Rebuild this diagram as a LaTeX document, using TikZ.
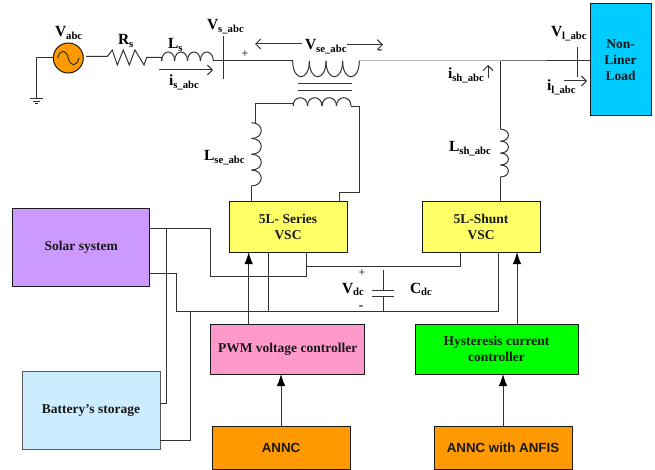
\documentclass[tikz,border=0pt]{standalone}
\usepackage{fontspec}
\setmainfont{Liberation Serif}
\setsansfont{Liberation Sans}
\usepackage{tikz}
\usetikzlibrary{arrows.meta}
\definecolor{solarcol}{HTML}{CC99FF}
\definecolor{battcol}{HTML}{CCECFF}
\definecolor{vsccol}{HTML}{FFFF66}
\definecolor{pwmcol}{HTML}{FF99CC}
\definecolor{anncol}{HTML}{FF9900}
\definecolor{loadcol}{HTML}{00CCFF}
\tikzset{
  wire/.style={line width=1pt,black!80},
  sense/.style={wire,-{Straight Barb[length=5pt,width=10pt]}},
  ctrl/.style={wire,-{Latex[length=12pt,width=8.5pt,black]}},
  blk/.style={draw,black!90,line width=1pt,inner sep=0pt,outer sep=0pt,align=center,
    font=\fontsize{13.5}{16}\selectfont\bfseries},
  lab/.style={anchor=base west,inner sep=0pt,outer sep=0pt},
}
% name, sub
\newcommand{\sublab}[2]{{\fontsize{15.5}{15}\selectfont\bfseries #1}\raisebox{-2.5pt}{\fontsize{10.7}{11}\selectfont\bfseries #2}}
% x, y, width of a turn, bulge
\newcommand{\coilh}[4]{\foreach \k in {0,1,2,3}
  \draw[wire] ({#1+#3*\k},#2) .. controls ({#1+#3*\k},{#2-(#4)}) and ({#1+#3*\k+#3},{#2-(#4)}) .. ({#1+#3*\k+#3},#2);}
\newcommand{\coilv}[4]{\foreach \k in {0,1,2,3}
  \draw[wire] (#1,{#2+#3*\k}) .. controls ({#1+#4},{#2+#3*\k}) and ({#1+#4},{#2+#3*\k+#3}) .. (#1,{#2+#3*\k+#3});}
\begin{document}
\begin{tikzpicture}[x=1pt,y=-1pt]
\useasboundingbox (0,0) rectangle (655,470);

% blocks
\node[blk,fill=solarcol,minimum width=137.5pt,minimum height=77pt] (solar) at (81.2,247.5) {Solar system};
\node[blk,fill=battcol,draw=black!65,minimum width=138pt,minimum height=78pt] (batt) at (91,410) {Battery’s storage};
\node[blk,fill=vsccol,minimum width=118pt,minimum height=50.5pt] (series) at (288,226.8) {5L- Series\\VSC};
\node[blk,fill=vsccol,minimum width=118pt,minimum height=50.5pt] (shunt) at (481,226.8) {5L-Shunt\\VSC};
\node[blk,fill=pwmcol,minimum width=153.5pt,minimum height=50pt] (pwm) at (287.7,349) {PWM voltage controller};
\node[blk,fill=green,minimum width=163pt,minimum height=50pt] (hyst) at (496.5,349) {Hysteresis current\\controller};
\node[blk,fill=anncol,minimum width=138pt,minimum height=42.5pt,font=\fontsize{13.3}{15}\selectfont\sffamily\bfseries] (annc) at (281,448.2) {ANNC};
\node[blk,fill=anncol,minimum width=138pt,minimum height=42.5pt,font=\fontsize{13.3}{15}\selectfont\sffamily\bfseries] (anfis) at (503,448.2) {ANNC with ANFIS};
\node[blk,fill=loadcol,minimum width=61pt,minimum height=112pt] (load) at (620.5,60) {Non-\\Liner\\Load};

% source and ground
\node[draw,black!90,line width=1pt,circle,fill=anncol,minimum size=30pt,inner sep=0pt,outer sep=0pt] (src) at (68.3,58) {};
\draw[wire] (57.7,58) .. controls (60,49) and (66,49) .. (68.3,58) .. controls (70.5,67) and (76.5,67) .. (79,58);
\coordinate (gnd) at (36,99);
\draw[wire] (src.west) -- (src.west -| gnd) -- (gnd);
\draw[wire] (30,99) -- (43,99) (33,101.5) -- (40,101.5) (34.5,104) -- (37.7,104);

% line with R and L
\draw[wire] (86,56.5) -- (107.3,56.5) -- (112.3,50) -- (117.3,65) -- (123.3,50) -- (129.3,65) -- (135,50) -- (144,65) -- (146.7,57.5) -- (161.7,57.5) -- (161.7,61);
\coilh{161.7}{61}{12.9}{12}
\coordinate (prim) at (292.7,61);
\coordinate (primr) at (359.3,61);
\coordinate (tap) at (500.5,61);
\draw[wire] (213.3,61) -- (prim);
\coilh{292.7}{61}{16.65}{-21}
\draw[wire] (primr) -- (tap) -- (load.west |- tap);
\draw[wire] (570,61) -- (load.west |- tap);
\draw[wire] (223,36) -- (223,79);
\draw[wire] (577,47) -- (577,77);

% transformer secondary
\draw[wire] (297.7,83.3) -- (351.7,83.3) (297.7,90.7) -- (351.7,90.7);
\coilh{293}{106}{14.5}{11}
\coordinate (secl) at (255,104);
\coordinate (secr) at (359,107);
\draw[wire] (293,106) -- (293,104) -- (secl) -- (255,122.7);
\draw[wire] (351,106) -- (351,107) -- (secr) -- (359,192.7) -- (339,192.7) -- (339,201.5);
\coilv{251.5}{122.7}{15.8}{13}
\draw[wire] (251.5,186) -- (251.5,201.5);

% shunt branch
\draw[wire] (tap) -- (500.5,129.3);
\coilv{500.5}{129.3}{11.9}{10.5}
\draw[wire] (500.5,176.9) -- (500.5,201.5);

% measuring arrows
\draw[sense] (159,70) -- (213,70);
\draw[sense] (302,44) -- (255,44);
\draw[sense] (347,44.7) -- (383,44.7);
\draw[sense] (488,78) -- (488,65);
\draw[sense] (564,81) -- (587,81);

% dc link
\coordinate (solA) at (150,228.7);
\coordinate (solB) at (150,273);
\coordinate (battA) at (160,403);
\coordinate (battB) at (160,440);
\draw[wire] (solA) -- (210.5,228.7) -- (210.5,276.7) -- (306.3,276.7) -- (306.3,252);
\draw[wire] (306.3,266) -- (460,266) -- (460,252);
\draw[wire] (solB) -- (176,273) -- (176,311.7) -- (498,311.7) -- (498,252);
\draw[wire] (166,228.7) -- (166,403) -- (battA);
\draw[wire] (190,311.7) -- (190,440) -- (battB);
\draw[wire] (268,252) -- (268,311.7);
\draw[wire] (383,270) -- (383,290.7) (372,290.7) -- (394,290.7);
\draw[wire] (372,296) -- (394,296) (383,296) -- (383,311.7);

% control arrows
\draw[ctrl] ([xshift=-39pt]pwm.north) -- ([xshift=-39.3pt]series.south);
\draw[ctrl] (annc.north) -- (annc.north |- pwm.south);
\draw[ctrl] ([xshift=20.5pt]hyst.north) -- ([xshift=36pt]shunt.south);
\draw[ctrl] (anfis.north) -- (anfis.north |- hyst.south);

% labels
\node[lab] (vabc) at (55,36.7) {\sublab{V}{abc}};
\node[lab] (rs) at (118,45) {\sublab{R}{s}};
\node[lab] (ls) at (168,49) {\sublab{L}{s}};
\node[lab] (vs) at (207,30) {\sublab{V}{s\_abc}};
\node[lab] (is) at (169,86) {\sublab{i}{s\_abc}};
\node[lab] (vse) at (305,50) {\sublab{V}{se\_abc}};
\node[lab] (lse) at (204,161) {\sublab{L}{se\_abc}};
\node[lab] (vl) at (551,37) {\sublab{V}{l\_abc}};
\node[lab] (ish) at (448,79) {\sublab{i}{sh\_abc}};
\node[lab] (il) at (547,91) {\sublab{i}{l\_abc}};
\node[lab] (lsh) at (449,152) {\sublab{L}{sh\_abc}};
\node[lab] (vdc) at (342,293) {\sublab{V}{dc}};
\node[lab] (cdc) at (410,293) {\sublab{C}{dc}};
\node[font=\fontsize{12}{12}\selectfont,inner sep=0pt] (pa) at (245,54.5) {+};
\node[font=\fontsize{13}{12}\selectfont\bfseries,inner sep=0pt] (ma) at (380,51.5) {-};
\node[font=\fontsize{12}{12}\selectfont,inner sep=0pt] (pb) at (362,273.5) {+};
\node[font=\fontsize{13}{12}\selectfont\bfseries,inner sep=0pt] (mb) at (361,308) {-};
\end{tikzpicture}
\end{document}
